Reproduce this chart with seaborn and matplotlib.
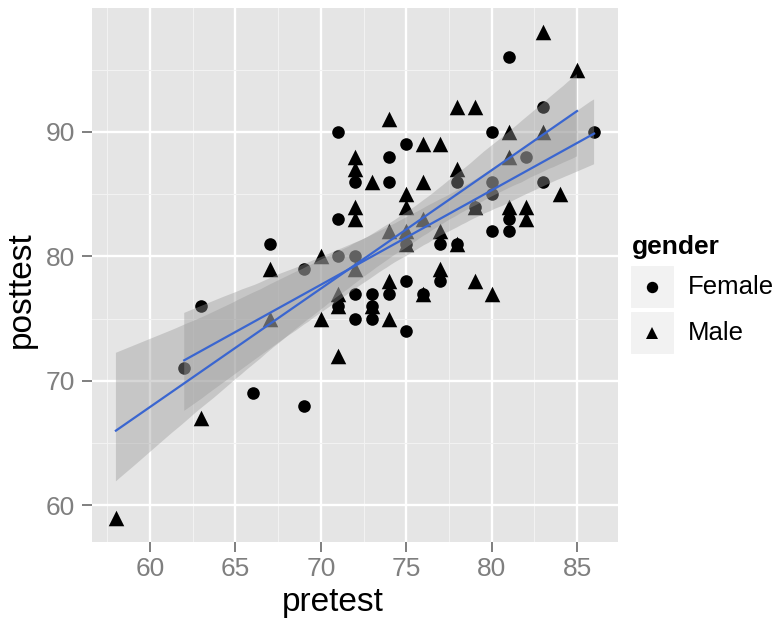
import numpy as np
import pandas as pd
import matplotlib
matplotlib.use("Agg")
import matplotlib.pyplot as plt
import seaborn as sns
from matplotlib.lines import Line2D
from matplotlib.patches import Rectangle

# ---- data ----
female_pre = [71, 71, 67, 69, 71, 81, 83, 80, 86, 75, 74, 82, 78, 72, 74, 80, 83, 80,
              81, 80, 81, 75, 77, 78, 72, 75, 77, 72, 73, 74, 71, 73, 72, 73, 75, 69,
              63, 62, 66, 76, 79]
female_post = [90, 83, 81, 79, 80, 96, 92, 90, 90, 89, 88, 88, 86, 86, 86, 86, 86, 85,
               83, 82, 82, 81, 81, 81, 80, 78, 78, 77, 77, 77, 76, 76, 75, 75, 74, 68,
               76, 71, 69, 77, 84]
male_pre = [70, 67, 71, 83, 85, 78, 79, 74, 81, 83, 76, 77, 72, 72, 81, 78, 73, 76,
            75, 84, 72, 75, 79, 81, 82, 82, 72, 76, 74, 75, 77, 75, 78, 72, 77, 74,
            79, 76, 80, 71, 73, 70, 74, 71, 67, 63, 58]
male_post = [80, 79, 77, 98, 95, 92, 92, 91, 90, 90, 89, 89, 88, 87, 88, 87, 86, 86,
             85, 85, 84, 84, 84, 84, 84, 83, 83, 83, 82, 82, 82, 81, 81, 79, 79, 78,
             78, 77, 77, 76, 76, 75, 75, 72, 75, 67, 59]
genders = ["Female", "Male"]
x_ticks = [60, 65, 70, 75, 80, 85]
y_ticks = [60, 70, 80, 90]

df = pd.DataFrame({
    "pretest": female_pre + male_pre,
    "posttest": female_post + male_post,
    "gender": ["Female"] * len(female_pre) + ["Male"] * len(male_pre),
})

plt.rcParams["font.family"] = ["Liberation Sans", "DejaVu Sans"]

W, H = 779, 621
fig = plt.figure(figsize=(W / 100, H / 100), dpi=100)
L, R, T, B = 92, 618, 8, 542
ax = fig.add_axes([L / W, 1 - B / H, (R - L) / W, (B - T) / H])
ax.set_facecolor("#E5E5E5")
for s in ax.spines.values():
    s.set_visible(False)

markers = {"Female": "o", "Male": "^"}
sizes = {"Female": 82, "Male": 125}
for g in genders:
    sub = df[df["gender"] == g]
    sns.scatterplot(data=sub, x="pretest", y="posttest", marker=markers[g],
                    s=sizes[g], color="black", linewidth=0, legend=False,
                    ax=ax, zorder=3)

for g in genders:
    sub = df[df["gender"] == g]
    n_before = len(ax.collections)
    sns.regplot(data=sub, x="pretest", y="posttest", scatter=False, ci=95,
                seed=3, truncate=True, color="#3A66D0",
                line_kws=dict(lw=1.6, zorder=5), ax=ax)
    for coll in ax.collections[n_before:]:
        coll.set_facecolor("#999999")
        coll.set_alpha(0.4)
        coll.set_edgecolor("none")
        coll.set_zorder(4)

ax.set_xticks(x_ticks)
ax.set_yticks(y_ticks)
ax.set_xticks([57.5, 62.5, 67.5, 72.5, 77.5, 82.5, 87.5], minor=True)
ax.set_yticks([65, 75, 85, 95], minor=True)
ax.set_xlim(56.6, 87.4)
ax.set_ylim(57.05, 99.95)
ax.grid(which="major", color="white", lw=1.7)
ax.grid(which="minor", color="#F2F2F2", lw=0.8)
ax.set_axisbelow(True)
ax.tick_params(which="minor", length=0)
ax.tick_params(which="major", length=7, width=1.4, color="#7F7F7F",
               labelcolor="#7F7F7F", labelsize=19)
ax.tick_params(axis="x", pad=4)
ax.tick_params(axis="y", pad=5)

ax.set_xlabel("pretest", fontsize=24, color="black")
ax.set_ylabel("posttest", fontsize=24, color="black")
ax.xaxis.set_label_coords((333 - L) / (R - L), -(603 - B) / (B - T), transform=ax.transAxes)
ax.yaxis.set_label_coords(-(92 - 21) / (R - L), (B - 290) / (B - T), transform=ax.transAxes)
ax.xaxis.label.set_va("center")
ax.yaxis.label.set_va("center")

# ---- legend (manual, ggplot style) ----
def fx(px):
    return px / W

def fy(py):
    return 1 - py / H

fig.text(fx(632), fy(247), "gender", fontsize=19, fontweight="bold",
         ha="left", va="center")
keys = [("Female", "o", 287, 8.2), ("Male", "^", 333, 9.0)]
for label, mk, cy, ms in keys:
    fig.add_artist(Rectangle((fx(630), fy(cy + 22)), fx(675) - fx(630),
                             fy(cy - 22) - fy(cy + 22), transform=fig.transFigure,
                             facecolor="#F2F2F2", edgecolor="white", lw=1.5))
    fig.add_artist(Line2D([fx(652)], [fy(cy)], marker=mk, markersize=ms,
                          color="black", linestyle="none", markeredgewidth=0,
                          transform=fig.transFigure))
    fig.text(fx(688), fy(cy), label, fontsize=18.5, ha="left", va="center")

fig.savefig("out.png", dpi=100)
